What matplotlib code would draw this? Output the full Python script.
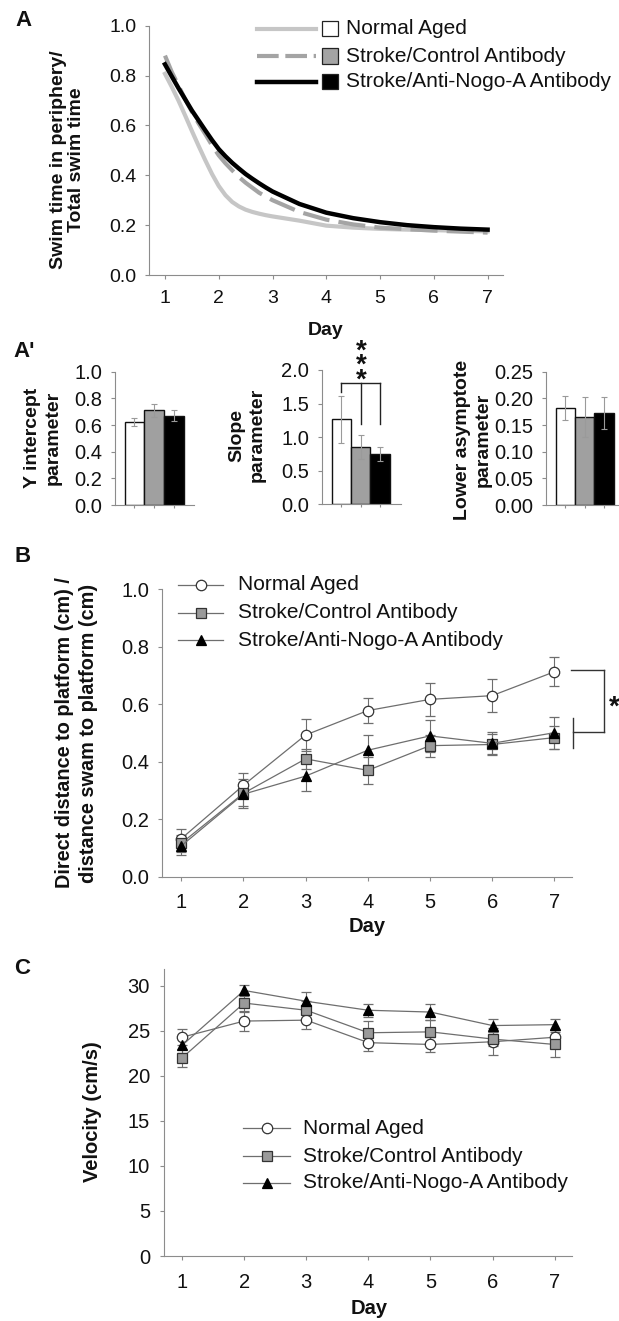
import numpy as np
import matplotlib
matplotlib.use('Agg')
import matplotlib.pyplot as plt
from matplotlib.lines import Line2D
from matplotlib.patches import Rectangle
from matplotlib.ticker import FormatStrFormatter

plt.rcParams['font.family'] = ['Liberation Sans', 'DejaVu Sans']

W, H = 619, 1321

# ---------------- data ----------------
groups = ['Normal Aged', 'Stroke/Control Antibody', 'Stroke/Anti-Nogo-A Antibody']

# Panel A: fitted curves
fit_days = [1, 1.125, 1.25, 1.375, 1.5, 1.625, 1.75, 1.875, 2, 2.125, 2.25, 2.375, 2.5,
            2.625, 2.75, 2.875, 3, 3.5, 4, 4.5, 5, 5.5, 6, 6.5, 7]
fit_normal = [0.807, 0.755, 0.70, 0.64, 0.578, 0.518, 0.46, 0.405, 0.357, 0.32, 0.293,
              0.275, 0.262, 0.253, 0.246, 0.240, 0.235, 0.218, 0.198, 0.19, 0.185,
              0.182, 0.18, 0.177, 0.175]
fit_control = [0.88, 0.815, 0.76, 0.705, 0.655, 0.608, 0.565, 0.52, 0.48, 0.448, 0.42,
               0.393, 0.37, 0.35, 0.33, 0.315, 0.30, 0.253, 0.222, 0.203, 0.19,
               0.184, 0.178, 0.174, 0.17]
fit_nogo = [0.845, 0.797, 0.75, 0.705, 0.66, 0.62, 0.58, 0.541, 0.505, 0.476, 0.45,
            0.427, 0.405, 0.386, 0.368, 0.351, 0.335, 0.285, 0.25, 0.228, 0.212,
            0.20, 0.192, 0.186, 0.182]

# Panel A': fit parameters
param_intercept = [0.62, 0.71, 0.67]
param_intercept_err = [0.03, 0.05, 0.04]
param_slope = [1.27, 0.85, 0.75]
param_slope_err = [0.35, 0.18, 0.10]
param_asym = [0.182, 0.165, 0.172]
param_asym_err = [0.023, 0.037, 0.030]

# Panel B
days = [1, 2, 3, 4, 5, 6, 7]
b_normal = [0.132, 0.318, 0.493, 0.578, 0.617, 0.630, 0.713]
b_normal_err = [0.033, 0.042, 0.057, 0.044, 0.057, 0.058, 0.050]
b_control = [0.116, 0.290, 0.410, 0.370, 0.456, 0.460, 0.484]
b_control_err = [0.030, 0.050, 0.035, 0.048, 0.038, 0.035, 0.040]
b_nogo = [0.107, 0.287, 0.350, 0.440, 0.490, 0.464, 0.501]
b_nogo_err = [0.030, 0.040, 0.052, 0.053, 0.055, 0.038, 0.055]

# Panel C
c_normal = [24.3, 26.1, 26.2, 23.7, 23.5, 23.8, 24.3]
c_normal_err = [0.9, 1.1, 1.0, 0.9, 0.8, 1.5, 0.8]
c_control = [22.0, 28.1, 27.3, 24.8, 24.9, 24.1, 23.5]
c_control_err = [1.0, 1.0, 1.0, 1.3, 1.3, 0.8, 1.4]
c_nogo = [23.4, 29.5, 28.3, 27.3, 27.1, 25.6, 25.7]
c_nogo_err = [0.8, 0.6, 1.0, 0.7, 0.9, 0.7, 0.6]

# ---------------- helpers ----------------
fig = plt.figure(figsize=(W / 100, H / 100), dpi=100)
fig.patch.set_facecolor('white')

AXC = '#8c8c8c'
TXT = '#111111'


def fx(px):
    return px / W


def fy(py):
    return 1 - py / H


def add_ax(left, top, right, bottom):
    return fig.add_axes([fx(left), fy(bottom), (right - left) / W, (bottom - top) / H])


def style(ax, fs, padx=6, pady=5):
    for s in ('top', 'right'):
        ax.spines[s].set_visible(False)
    for s in ('left', 'bottom'):
        ax.spines[s].set_color(AXC)
        ax.spines[s].set_linewidth(0.8)
    ax.tick_params(axis='both', direction='out', length=3, width=0.8, color=AXC,
                   labelsize=fs, labelcolor=TXT)
    ax.tick_params(axis='x', pad=padx)
    ax.tick_params(axis='y', pad=pady)


def ftext(x, y, s, **kw):
    kw.setdefault('color', TXT)
    return fig.text(fx(x), fy(y), s, **kw)


def fline(xs, ys, **kw):
    ln = Line2D([fx(v) for v in xs], [fy(v) for v in ys], transform=fig.transFigure, **kw)
    fig.add_artist(ln)
    return ln


# ---------------- Panel A ----------------
axA = add_ax(148.8, 25.7, 503.4, 275)
style(axA, 14, padx=8, pady=6)
axA.plot(fit_days, fit_normal, color='#c6c6c6', lw=3.0, zorder=2)
axA.plot(fit_days, fit_control, color='#a4a4a4', lw=3.0, dashes=(6.5, 2.2), zorder=3)
axA.plot(fit_days, fit_nogo, color='#000000', lw=3.2, zorder=4)
axA.set_xlim(0.699, 7.294)
axA.set_ylim(0, 1.0)
axA.set_xticks(days)
axA.set_yticks(np.arange(0, 1.01, 0.2))
axA.yaxis.set_major_formatter(FormatStrFormatter('%.1f'))

ftext(67.5, 160, 'Swim time in periphery/\nTotal swim time', rotation=90, ha='center',
      va='center', fontsize=14, fontweight='bold', linespacing=1.05, multialignment='center')
ftext(326, 330, 'Day', ha='center', va='center', fontsize=14, fontweight='bold')
ftext(24, 20, 'A', ha='center', va='center', fontsize=16, fontweight='bold')

# legend A
legA = [
    (28.5, dict(color='#c6c6c6', lw=3.0), 'white'),
    (56.0, dict(color='#a4a4a4', lw=3.0, dashes=(5.2, 1.6)), '#a4a4a4'),
    (81.5, dict(color='#000000', lw=3.2), '#000000'),
]
for (yy, lkw, pc), lab in zip(legA, groups):
    fline([256.7, 315.5], [yy, yy], **lkw)
    r = Rectangle((fx(321.7), fy(yy + 7.8)), 16.6 / W, 15.6 / H, transform=fig.transFigure,
                  facecolor=pc, edgecolor='#222222', lw=0.9)
    fig.add_artist(r)
    ftext(346.5, yy, lab, ha='left', va='center', fontsize=15)

# ---------------- Panel A' ----------------
bar_colors = ['white', '#a0a0a0', 'black']
xb = [0, 1, 2]


def bar_panel(ax, vals, errs, ylim, ticks, fmt):
    style(ax, 14.5, padx=3, pady=6)
    ax.bar(xb, vals, width=1.0, color=bar_colors, edgecolor='#111111', lw=1.0, zorder=2)
    ax.errorbar(xb, vals, yerr=errs, fmt='none', ecolor='#9a9a9a', elinewidth=0.8,
                capsize=2.5, capthick=0.8, zorder=3)
    ax.set_ylim(*ylim)
    ax.set_yticks(ticks)
    ax.yaxis.set_major_formatter(FormatStrFormatter(fmt))
    ax.set_xticks(xb)
    ax.set_xticklabels([])
    ax.tick_params(axis='x', length=2.5)


ax1 = add_ax(114.5, 371.7, 194.2, 505)
ax1.set_xlim(-1.015, 3.03)
bar_panel(ax1, param_intercept, param_intercept_err, (0, 1.0), np.arange(0, 1.01, 0.2), '%.1f')

ax2 = add_ax(321.8, 370, 400.7, 504.3)
ax2.set_xlim(-1.02, 3.07)
bar_panel(ax2, param_slope, param_slope_err, (0, 2.0), np.arange(0, 2.01, 0.5), '%.1f')
# significance bracket
kwb = dict(color='#222222', lw=1.0, clip_on=False)
ax2.plot([0, 2], [1.8, 1.8], **kwb)
ax2.plot([0, 0], [1.8, 1.67], **kwb)
ax2.plot([1, 1], [1.8, 1.2], **kwb)
ax2.plot([2, 2], [1.8, 1.2], **kwb)
ftext(361.2, 366, '*\n*\n*', ha='center', va='center', fontsize=20, fontweight='bold',
      linespacing=0.42, multialignment='center')

ax3 = add_ax(546, 371.7, 624.4, 505)
ax3.set_xlim(-1.0, 3.05)
bar_panel(ax3, param_asym, param_asym_err, (0, 0.25), np.arange(0, 0.251, 0.05), '%.2f')

ftext(24, 351, "A'", ha='center', va='center', fontsize=16, fontweight='bold')
ftext(42.7, 438, 'Y intercept\nparameter', rotation=90, ha='center', va='center',
      fontsize=14, fontweight='bold', linespacing=1.3, multialignment='center')
ftext(247, 435, 'Slope\nparameter', rotation=90, ha='center', va='center',
      fontsize=14, fontweight='bold', linespacing=1.3, multialignment='center')
ftext(473, 440, 'Lower asymptote\nparameter', rotation=90, ha='center', va='center',
      fontsize=14, fontweight='bold', linespacing=1.3, multialignment='center')

# ---------------- Panel B / C common styles ----------------
LC = '#6e6e6e'
series_style = [
    dict(marker='o', markerfacecolor='white', markeredgecolor='#333333', markersize=7.5),
    dict(marker='s', markerfacecolor='#9a9a9a', markeredgecolor='#333333', markersize=7),
    dict(marker='^', markerfacecolor='black', markeredgecolor='black', markersize=7.5),
]


def line_panel(ax, series, errs):
    for vals, err, st in zip(series, errs, series_style):
        ax.errorbar(days, vals, yerr=err, color=LC, lw=0.9, ecolor='#6e6e6e', elinewidth=0.8,
                    capsize=3.5, capthick=0.8, markeredgewidth=0.9, zorder=3, **st)


def legend_rows(x0, x1, xt, ys, fs):
    for yy, st, lab in zip(ys, series_style, groups):
        xm = (x0 + x1) / 2
        fline([x0, xm, x1], [yy, yy, yy], color=LC, lw=0.9, markevery=[1],
              markeredgewidth=0.9, **st)
        ftext(xt, yy, lab, ha='left', va='center', fontsize=fs)


# ---------------- Panel B ----------------
axB = add_ax(161.9, 589.3, 572.4, 876.7)
style(axB, 14.5, padx=9, pady=6)
line_panel(axB, [b_normal, b_control, b_nogo], [b_normal_err, b_control_err, b_nogo_err])
axB.set_xlim(0.69, 7.29)
axB.set_ylim(0, 1.0)
axB.set_xticks(days)
axB.set_yticks(np.arange(0, 1.01, 0.2))
axB.yaxis.set_major_formatter(FormatStrFormatter('%.1f'))
# significance bracket
kwb = dict(color='#333333', lw=1.0, clip_on=False)
axB.plot([7.26, 7.80], [0.719, 0.719], **kwb)
axB.plot([7.80, 7.80], [0.719, 0.502], **kwb)
axB.plot([7.30, 7.80], [0.502, 0.502], **kwb)
axB.plot([7.30, 7.30], [0.551, 0.447], **kwb)
ftext(608.5, 715, '*', ha='left', va='baseline', fontsize=20, fontweight='bold')

legend_rows(178.3, 223.3, 238.3, [585, 612.7, 640], 15)
ftext(76.4, 733, 'Direct distance to platform (cm) /\ndistance swam to platform (cm)',
      rotation=90, ha='center', va='center', fontsize=14.3, fontweight='bold',
      linespacing=1.3, multialignment='center')
ftext(367, 927, 'Day', ha='center', va='center', fontsize=14.5, fontweight='bold')
ftext(23, 557, 'B', ha='center', va='center', fontsize=16, fontweight='bold')

# ---------------- Panel C ----------------
axC = add_ax(163.8, 969.3, 572.4, 1256)
style(axC, 14.5, padx=9, pady=7)
line_panel(axC, [c_normal, c_control, c_nogo], [c_normal_err, c_control_err, c_nogo_err])
axC.set_xlim(0.707, 7.285)
axC.set_ylim(0, 31.85)
axC.set_xticks(days)
axC.set_yticks(np.arange(0, 31, 5))

legend_rows(242.8, 290.2, 303, [1128.3, 1156, 1182.7], 15)
ftext(92.8, 1111.5, 'Velocity (cm/s)', rotation=90, ha='center', va='center',
      fontsize=14.5, fontweight='bold')
ftext(369, 1309, 'Day', ha='center', va='center', fontsize=14.5, fontweight='bold')
ftext(22, 968, 'C', ha='center', va='center', fontsize=16, fontweight='bold')

fig.savefig('out.png', dpi=100, facecolor='white')
